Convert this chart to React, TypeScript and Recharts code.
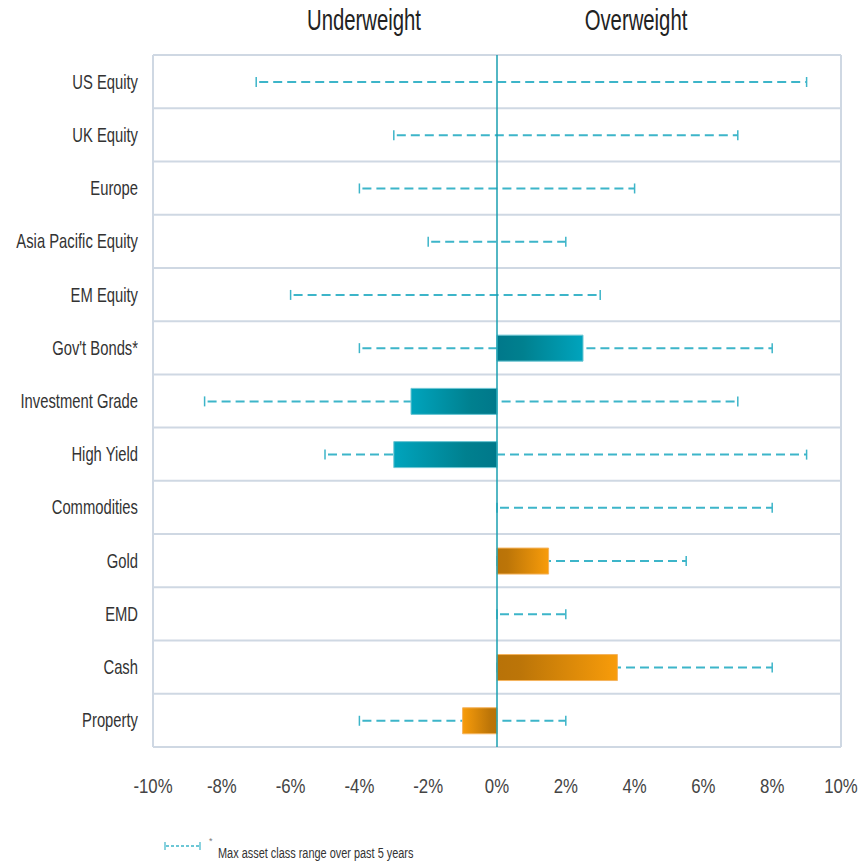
import React from "react";
import {
  Bar,
  BarChart,
  CartesianGrid,
  Cell,
  ReferenceLine,
  XAxis,
  YAxis,
} from "recharts";

const categories = [
  "US Equity",
  "UK Equity",
  "Europe ",
  "Asia Pacific Equity",
  "EM Equity",
  "Gov't Bonds*",
  "Investment Grade",
  "High Yield",
  "Commodities",
  "Gold",
  "EMD",
  "Cash",
  "Property",
];

// current positioning (%)
const positions = [0, 0, 0, 0, 0, 2.5, -2.5, -3, 0, 1.5, 0, 3.5, -1];

// 5y range of positioning (%)
const rangeLow = [-7, -3, -4, -2, -6, -4, -8.5, -5, 0, 0, 0, 0, -4];
const rangeHigh = [9, 7, 4, 2, 3, 8, 7, 9, 8, 5.5, 2, 8, 2];

const barGroup = [
  "teal",
  "teal",
  "teal",
  "teal",
  "teal",
  "teal",
  "teal",
  "teal",
  "orange",
  "orange",
  "orange",
  "orange",
  "orange",
];

const xTicks = [-10, -8, -6, -4, -2, 0, 2, 4, 6, 8, 10];

const FONT = "'Liberation Sans', Arial, sans-serif";
const RANGE_COLOR = "#3db5c9";
const GRID_COLOR = "#cfd8e3";

const data = categories.map((name, i) => ({
  name,
  value: positions[i] === 0 ? null : positions[i],
  range: [rangeLow[i], rangeHigh[i]],
  group: barGroup[i],
}));

const RangeLine = (props: any) => {
  const { x, y, width, height } = props;
  if (width == null || isNaN(width)) return null;
  const cy = y + height / 2;
  const x1 = x;
  const x2 = x + width;
  return (
    <g>
      <line
        x1={x1 + 3}
        x2={x2}
        y1={cy}
        y2={cy}
        stroke={RANGE_COLOR}
        strokeWidth={2}
        strokeDasharray="9 5"
      />
      <line x1={x1} x2={x1} y1={cy - 5} y2={cy + 5} stroke={RANGE_COLOR} strokeWidth={1.5} />
      <line x1={x2} x2={x2} y1={cy - 5} y2={cy + 5} stroke={RANGE_COLOR} strokeWidth={1.5} />
    </g>
  );
};

const CategoryTick = ({ x, y, payload }: any) => (
  <g transform={`translate(${x},${y}) scale(0.74,1)`}>
    <text
      x={0}
      y={0}
      dy="0.35em"
      textAnchor="end"
      fontFamily={FONT}
      fontSize={20}
      fill="#333333"
    >
      {payload.value}
    </text>
  </g>
);

const PercentTick = ({ x, y, payload }: any) => (
  <g transform={`translate(${x},${y}) scale(0.8,1)`}>
    <text
      x={0}
      y={0}
      dy="0.71em"
      textAnchor="middle"
      fontFamily={FONT}
      fontSize={21}
      fill="#444444"
    >
      {`${payload.value}%`}
    </text>
  </g>
);

function fillFor(d: any) {
  const side = d.value > 0 ? "Pos" : "Neg";
  return `url(#${d.group}${side})`;
}

const headerStyle: React.CSSProperties = {
  position: "absolute",
  top: 4,
  fontFamily: FONT,
  fontSize: 29,
  color: "#222222",
  transform: "translateX(-50%) scaleX(0.7)",
  whiteSpace: "nowrap",
};

export default function App() {
  return (
    <div
      style={{
        position: "absolute",
        left: 0,
        top: 0,
        width: 858,
        height: 865,
        background: "#ffffff",
      }}
    >
      <div style={{ ...headerStyle, left: 364 }}>Underweight</div>
      <div style={{ ...headerStyle, left: 636 }}>Overweight</div>

      <BarChart
        width={858}
        height={865}
        data={data}
        layout="vertical"
        margin={{ top: 55, right: 17, left: 0, bottom: 58 }}
        barSize={26}
        barGap={-26}
      >
        <defs>
          <linearGradient id="tealPos" x1="0" x2="1" y1="0" y2="0">
            <stop offset="0%" stopColor="#00788a" />
            <stop offset="30%" stopColor="#00808f" />
            <stop offset="100%" stopColor="#00a4bd" />
          </linearGradient>
          <linearGradient id="tealNeg" x1="0" x2="1" y1="0" y2="0">
            <stop offset="0%" stopColor="#00a4bd" />
            <stop offset="70%" stopColor="#00808f" />
            <stop offset="100%" stopColor="#00788a" />
          </linearGradient>
          <linearGradient id="orangePos" x1="0" x2="1" y1="0" y2="0">
            <stop offset="0%" stopColor="#b87208" />
            <stop offset="20%" stopColor="#bc7508" />
            <stop offset="100%" stopColor="#f89c0a" />
          </linearGradient>
          <linearGradient id="orangeNeg" x1="0" x2="1" y1="0" y2="0">
            <stop offset="0%" stopColor="#f89c0a" />
            <stop offset="80%" stopColor="#bc7508" />
            <stop offset="100%" stopColor="#b87208" />
          </linearGradient>
        </defs>
        <CartesianGrid
          stroke={GRID_COLOR}
          strokeWidth={2}
          horizontalCoordinatesGenerator={({ offset }: any) =>
            categories
              .map((_, i) => offset.top + (i * offset.height) / categories.length)
              .concat(offset.top + offset.height)
          }
          verticalCoordinatesGenerator={({ offset }: any) => [
            offset.left,
            offset.left + offset.width,
          ]}
        />
        <XAxis
          type="number"
          domain={[-10, 10]}
          ticks={xTicks}
          tick={<PercentTick />}
          tickLine={false}
          axisLine={false}
          tickSize={0}
          tickMargin={31}
          height={60}
          interval={0}
        />
        <YAxis
          type="category"
          dataKey="name"
          width={153}
          tick={<CategoryTick />}
          tickLine={false}
          axisLine={false}
          tickSize={0}
          tickMargin={15}
          interval={0}
        />
        <Bar dataKey="range" shape={<RangeLine />} isAnimationActive={false} />
        <Bar dataKey="value" isAnimationActive={false}>
          {data.map((d, i) => (
            <Cell
              key={i}
              fill={fillFor(d)}
              stroke={d.group === "teal" ? "#6cc6d4" : "#f5b35c"}
              strokeWidth={1}
            />
          ))}
        </Bar>
        <ReferenceLine x={0} stroke="#1a9fb0" strokeWidth={1.5} />
      </BarChart>

      <svg
        width={40}
        height={20}
        style={{ position: "absolute", left: 162, top: 836 }}
      >
        <line x1={4} x2={38} y1={10} y2={10} stroke={RANGE_COLOR} strokeWidth={1.5} strokeDasharray="3 2" />
        <line x1={3} x2={3} y1={6} y2={14} stroke={RANGE_COLOR} strokeWidth={1.2} />
        <line x1={38} x2={38} y1={6} y2={14} stroke={RANGE_COLOR} strokeWidth={1.2} />
      </svg>
      <div
        style={{
          position: "absolute",
          left: 209,
          top: 836,
          fontFamily: FONT,
          fontSize: 9,
          color: "#777777",
        }}
      >
        *
      </div>
      <div
        style={{
          position: "absolute",
          left: 218,
          top: 845,
          fontFamily: FONT,
          fontSize: 14,
          color: "#333333",
          transform: "scaleX(0.78)",
          transformOrigin: "left top",
          whiteSpace: "nowrap",
        }}
      >
        Max asset class range over past 5 years
      </div>
    </div>
  );
}
